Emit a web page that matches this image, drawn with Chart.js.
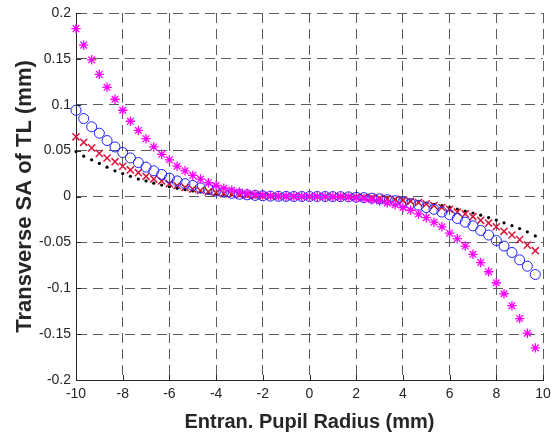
<!DOCTYPE html>
<html>
<head>
<meta charset="utf-8">
<script src="https://cdn.jsdelivr.net/npm/chart.js@4.4.1/dist/chart.umd.min.js"></script>
<style>
  html, body { margin: 0; padding: 0; background: #fff; }
  #wrap { width: 551px; height: 437px; position: relative; }
</style>
</head>
<body>
<div id="wrap"><canvas id="grafica"></canvas></div>
<script>
// entrance pupil radius samples (mm)
const radius = [
  -10, -9.67, -9.33, -9, -8.67, -8.33, -8, -7.67, -7.33, -7,
  -6.67, -6.33, -6, -5.67, -5.33, -5, -4.67, -4.33, -4, -3.67,
  -3.33, -3, -2.67, -2.33, -2, -1.67, -1.33, -1, -0.67, -0.33,
  0, 0.33, 0.67, 1, 1.33, 1.67, 2, 2.33, 2.67, 3,
  3.33, 3.67, 4, 4.33, 4.67, 5, 5.33, 5.67, 6, 6.33,
  6.67, 7, 7.33, 7.67, 8, 8.33, 8.67, 9, 9.33, 9.67
];

// transverse SA values (mm)
const saDots = [
  0.049, 0.044, 0.040, 0.036, 0.032, 0.028, 0.025, 0.022, 0.019, 0.017,
  0.0145, 0.0124, 0.0106, 0.0089, 0.0074, 0.0061, 0.005, 0.004, 0.0031, 0.0024,
  0.0018, 0.0013, 0.0009, 0.0006, 0.0004, 0.0002, 0.0001, 0, 0, 0,
  0, 0, 0, -0.0001, -0.0002, -0.0003, -0.0005, -0.0008, -0.0012, -0.0017,
  -0.0023, -0.003, -0.0038, -0.0048, -0.0059, -0.0072, -0.0086, -0.010, -0.0118, -0.0137,
  -0.0158, -0.018, -0.0204, -0.023, -0.0257, -0.0287, -0.0318, -0.035, -0.0385, -0.043
];
const saCross = [
  0.065, 0.059, 0.053, 0.047, 0.042, 0.038, 0.033, 0.029, 0.026, 0.022,
  0.019, 0.017, 0.014, 0.012, 0.0099, 0.0081, 0.0066, 0.0053, 0.0042, 0.0032,
  0.0024, 0.0018, 0.0012, 0.0008, 0.0005, 0.0003, 0.0002, 0.0001, 0, 0,
  0, 0, 0, -0.0001, -0.0002, -0.0003, -0.0005, -0.0008, -0.0012, -0.0018,
  -0.0024, -0.0032, -0.0042, -0.0053, -0.0066, -0.0081, -0.0099, -0.012, -0.014, -0.017,
  -0.019, -0.022, -0.026, -0.029, -0.033, -0.038, -0.042, -0.047, -0.053, -0.059
];
const saCircle = [
  0.094, 0.085, 0.076, 0.069, 0.061, 0.054, 0.048, 0.042, 0.037, 0.032,
  0.028, 0.024, 0.020, 0.017, 0.014, 0.012, 0.0095, 0.0077, 0.006, 0.0046,
  0.0035, 0.0025, 0.0018, 0.0012, 0.0008, 0.0004, 0.0002, 0.0001, 0, 0,
  0, 0, 0, -0.0001, -0.0002, -0.0004, -0.0008, -0.0012, -0.0018, -0.0025,
  -0.0035, -0.0046, -0.006, -0.0077, -0.0095, -0.012, -0.014, -0.017, -0.020, -0.024,
  -0.028, -0.032, -0.037, -0.042, -0.048, -0.054, -0.061, -0.069, -0.076, -0.085
];
const saStar = [
  0.183, 0.165, 0.149, 0.133, 0.119, 0.106, 0.094, 0.082, 0.072, 0.063,
  0.054, 0.046, 0.040, 0.033, 0.028, 0.023, 0.019, 0.015, 0.012, 0.009,
  0.007, 0.005, 0.0035, 0.0023, 0.0015, 0.0008, 0.0004, 0.0002, 0.0001, 0,
  0, 0, -0.0001, -0.0002, -0.0004, -0.0008, -0.0015, -0.0023, -0.0035, -0.005,
  -0.007, -0.009, -0.012, -0.015, -0.019, -0.023, -0.028, -0.033, -0.040, -0.046,
  -0.054, -0.063, -0.072, -0.082, -0.094, -0.106, -0.119, -0.133, -0.149, -0.165
];

const xTicks = [-10, -8, -6, -4, -2, 0, 2, 4, 6, 8, 10];
const yTicks = [-0.2, -0.15, -0.1, -0.05, 0, 0.05, 0.1, 0.15, 0.2];

function pts(ys) {
  return radius.map(function (x, i) { return { x: x, y: ys[i] }; });
}

// inward tick marks on the left and bottom axes
const inwardTicks = {
  id: 'inwardTicks',
  afterDraw: function (chart) {
    const ctx = chart.ctx;
    const a = chart.chartArea;
    const sx = chart.scales.x, sy = chart.scales.y;
    ctx.save();
    ctx.strokeStyle = '#262626';
    ctx.lineWidth = 1;
    ctx.beginPath();
    xTicks.forEach(function (v) {
      const px = Math.round(sx.getPixelForValue(v)) + 0.5;
      ctx.moveTo(px, a.bottom);
      ctx.lineTo(px, a.bottom - 5);
    });
    yTicks.forEach(function (v) {
      const py = Math.round(sy.getPixelForValue(v)) + 0.5;
      ctx.moveTo(a.left, py);
      ctx.lineTo(a.left + 5, py);
    });
    ctx.stroke();
    ctx.restore();
  }
};

const fuente = "'Liberation Sans', Arial, Helvetica, sans-serif";

const ctx = document.getElementById('grafica').getContext('2d');
new Chart(ctx, {
  type: 'scatter',
  data: {
    datasets: [
      {
        data: pts(saStar),
        pointStyle: 'star',
        pointRadius: 4.7,
        borderColor: '#ff00ff',
        backgroundColor: '#ff00ff',
        pointBorderWidth: 1.3,
        clip: 10,
        order: 1
      },
      {
        data: pts(saCircle),
        pointStyle: 'circle',
        pointRadius: 5,
        borderColor: '#1f1fff',
        backgroundColor: 'rgba(0,0,0,0)',
        pointBorderWidth: 1,
        clip: 10,
        order: 2
      },
      {
        data: pts(saCross),
        pointStyle: 'crossRot',
        pointRadius: 5,
        borderColor: '#d9143a',
        backgroundColor: '#d9143a',
        pointBorderWidth: 1.5,
        clip: 10,
        order: 3
      },
      {
        data: pts(saDots),
        pointStyle: 'circle',
        pointRadius: 1.6,
        borderColor: '#000',
        backgroundColor: '#000',
        pointBorderWidth: 0,
        clip: 10,
        order: 4
      }
    ]
  },
  options: {
    responsive: true,
    maintainAspectRatio: false,
    animation: false,
    events: [],
    layout: { padding: { top: 13, right: 8, left: 0, bottom: 0 } },
    plugins: {
      legend: { display: false },
      tooltip: { enabled: false }
    },
    scales: {
      x: {
        type: 'linear',
        min: -10,
        max: 10,
        afterFit: function (s) {
          s.height = 57;
          s.paddingLeft = 0;
          s.paddingRight = 0;
        },
        afterBuildTicks: function (s) { s.ticks = xTicks.map(function (v) { return { value: v }; }); },
        ticks: {
          color: '#262626',
          padding: 6,
          maxRotation: 0,
          font: { family: fuente, size: 14 }
        },
        grid: { color: '#5c5c5c', lineWidth: 1, drawTicks: false },
        border: { display: true, color: '#262626', width: 1, dash: [10, 6] },
        title: {
          display: true,
          text: 'Entran. Pupil Radius (mm)',
          color: '#262626',
          padding: { top: 0, bottom: 3 },
          font: { family: fuente, size: 20, weight: 'bold' }
        }
      },
      y: {
        type: 'linear',
        min: -0.2,
        max: 0.2,
        afterFit: function (s) {
          s.width = 76;
          s.paddingTop = 0;
          s.paddingBottom = 0;
        },
        afterBuildTicks: function (s) { s.ticks = yTicks.map(function (v) { return { value: v }; }); },
        ticks: {
          color: '#262626',
          padding: 5,
          font: { family: fuente, size: 14 },
          callback: function (v) { return String(Number(v.toFixed(2))); }
        },
        grid: { color: '#5c5c5c', lineWidth: 1, drawTicks: false },
        border: { display: true, color: '#262626', width: 1, dash: [10, 6] },
        title: {
          display: true,
          text: 'Transverse SA of TL (mm)',
          color: '#262626',
          padding: { top: 12, bottom: 0 },
          font: { family: fuente, size: 22, weight: 'bold' }
        }
      }
    }
  },
  plugins: [inwardTicks]
});
</script>
</body>
</html>
